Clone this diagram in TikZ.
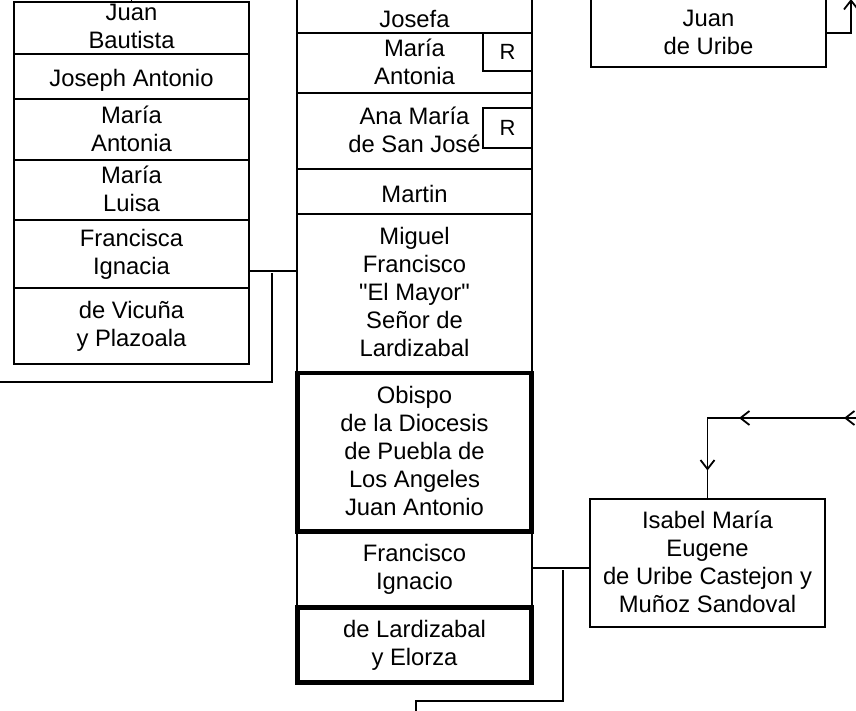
\documentclass[tikz,border=0pt]{standalone}
\usepackage{fontspec}
\setmainfont{Liberation Sans}[Ligatures=TeXOff]
\usetikzlibrary{arrows.meta,decorations.markings}
\newcommand\mystrut{\rule[-2.5pt]{0pt}{26.25pt}}
\begin{document}
\begin{tikzpicture}[x=1pt,y=-1pt,
  every node/.style={inner sep=0pt, outer sep=0pt},
  txt/.style={align=center, font=\fontsize{23.8}{28}\selectfont,
    execute at begin node=\mystrut, execute at end node=\mystrut},
  box/.style={txt, draw, line width=1.3pt, minimum width=235pt},
  thickbox/.style={box, line width=4.6pt, minimum width=234pt},
  rbox/.style={draw, line width=1.3pt, minimum width=49pt, font=\fontsize{22}{26}\selectfont},
  conn/.style={line width=1.3pt},
  midarrows/.style={postaction={decorate, decoration={markings,
    mark=at position 14pt with {\arrow{Straight Barb[length=9pt,width=14pt,line width=1.8pt]}},
    mark=at position 119pt with {\arrow{Straight Barb[length=9pt,width=14pt,line width=1.8pt]}},
    mark=at position 203pt with {\arrow{Straight Barb[length=9pt,width=14pt,line width=1.8pt]}}}}}
]
\useasboundingbox (0,0) rectangle (856,710);
\clip (0,0) rectangle (856,710);
% left column
\node[box, minimum height=52] (jb) at (131.5,28) {Juan\\Bautista};
\node[box, minimum height=45] (ja) at (131.5,77) {Joseph Antonio};
\node[box, minimum height=61] (ma1) at (131.5,129.5) {María\\Antonia};
\node[box, minimum height=60] (ml) at (131.5,190) {María\\Luisa};
\node[box, minimum height=68] (fi) at (131.5,254) {Francisca\\Ignacia};
\node[box, minimum height=76] (vp) at (131.5,326) {de Vicuña\\y Plazoala};
\coordinate (jbtop) at (131.5,-2);
\draw[conn] (jb.north) -- (jbtop);
% central column
\node[box, minimum height=50] (josefa) at (414.5,8) {};
\node[txt] (josefaT) at (414.5,16.5) {Josefa};
\node[box, minimum height=60] (ma2) at (414.5,63) {María\\Antonia};
\node[box, minimum height=76] (ams) at (414.5,131) {Ana María\\de San José};
\node[box, minimum height=45] (martin) at (414.5,191.5) {Martin};
\node[box, minimum height=159] (miguel) at (414.5,293.5) {Miguel\\Francisco\\"El Mayor"\\Señor de\\Lardizabal};
\node[box, minimum height=76] (fig) at (414.5,569.5) {Francisco\\Ignacio};
\node[thickbox, minimum height=158.5] (obispo) at (414.5,452.25) {Obispo\\de la Diocesis\\de Puebla de\\Los Angeles\\Juan Antonio};
\node[thickbox, minimum height=75] (elorza) at (414.5,645) {de Lardizabal\\y Elorza};
\node[rbox, minimum height=38] (r1) at (507.5,52) {R};
\node[rbox, minimum height=40] (r2) at (507.5,128) {R};
% right column
\node[box, minimum height=87] (uribe) at (708.5,23.5) {};
\node[txt] (uribeT) at (708.5,34) {Juan\\de Uribe};
\node[box, minimum height=128] (isabel) at (707.5,563) {Isabel María\\Eugene\\de Uribe Castejon y\\Muñoz Sandoval};
% connectors
\draw[conn] (fi.east |- 0,271) -- (miguel.west |- 0,271);
\coordinate (k1) at (272,273);
\coordinate (k2) at (-2,382);
\draw[conn] (k1) |- (k2);
\draw[conn] (fig.east |- 0,568) -- (isabel.west |- 0,568);
\coordinate (m1) at (563,570);
\coordinate (m2) at (416,701);
\coordinate (m3) at (416,712);
\draw[conn] (m1) |- (m2) -- (m3);
\coordinate (in1) at (858,418);
\draw[conn, midarrows] (in1) -| (isabel.north);
\coordinate (out1) at (851,-1);
\draw[conn, -{Straight Barb[length=9pt,width=14pt,line width=1.8pt]}] (uribe.east |- 0,33) -| (out1);
\end{tikzpicture}
\end{document}
